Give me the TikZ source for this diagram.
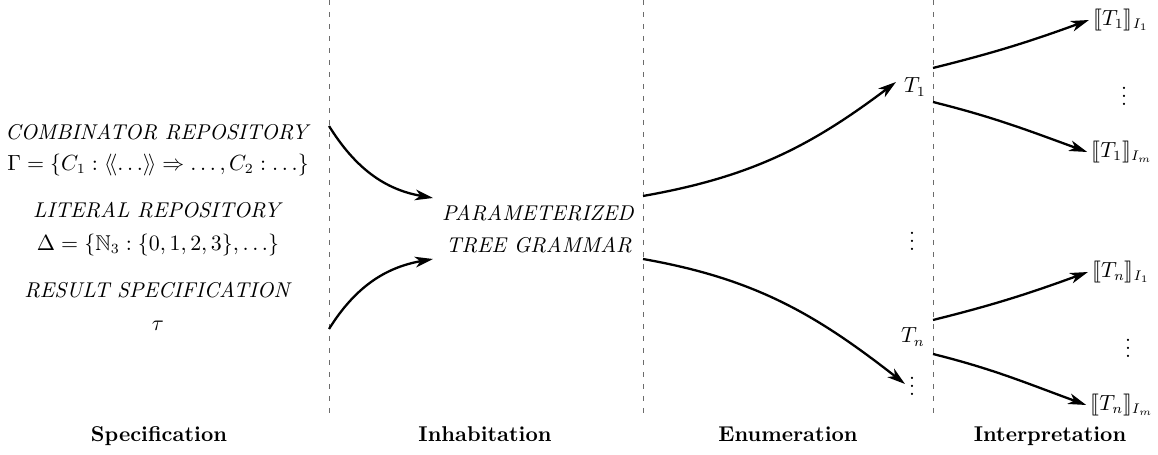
\documentclass[tikz,border=0pt]{standalone}
\usepackage{amssymb}
\usepackage{stmaryrd}
\usetikzlibrary{arrows.meta}
\begin{document}
\begin{tikzpicture}[x=0.5pt,y=0.5pt,
  every node/.style={font=\fontsize{10.7pt}{13pt}\selectfont},
  sep/.style={gray!85!black,line width=0.45pt,dash pattern=on 2.6pt off 3.4pt},
  flow/.style={line width=1.15pt,-{Stealth[length=9pt,width=5.4pt,inset=2.6pt]}},
  lbl/.style={inner sep=0pt,anchor=center},
  phase/.style={inner sep=0pt,anchor=base,font=\fontsize{10.7pt}{13pt}\selectfont\bfseries}]
\useasboundingbox (0,0) rectangle (1158,455);

% phase separators
\foreach \n/\x in {s1/329,s2/643,s3/933}{
  \coordinate (\n top) at (\x,455);
  \coordinate (\n bot) at (\x,37);
  \draw[sep] (\n top) -- (\n bot);
}

% phase titles
\node[phase] (pspec) at (159,13) {Specification};
\node[phase] (pinh)  at (485,13) {Inhabitation};
\node[phase] (penum) at (788,13) {Enumeration};
\node[phase] (pint)  at (1050,13) {Interpretation};

% specification
\node[lbl] (comb)  at (158,323) {\textit{COMBINATOR REPOSITORY}};
\node[lbl] (gamma) at (158,290) {$\Gamma = \{C_1 : \langle\!\langle \ldots\rangle\!\rangle \Rightarrow \ldots, C_2 : \ldots\}$};
\node[lbl] (lit)   at (158,245) {\textit{LITERAL REPOSITORY}};
\node[lbl] (delta) at (158,210) {$\Delta = \{\mathbb{N}_3 : \{0,1,2,3\},\ldots\}$};
\node[lbl] (res)   at (158,165) {\textit{RESULT SPECIFICATION}};
\node[lbl] (tau)   at (158,129) {$\tau$};

% inhabitation
\node[lbl] (param) at (538,242) {\textit{PARAMETERIZED}};
\node[lbl] (tree)  at (539,210) {\textit{TREE GRAMMAR}};

% enumeration
\node[lbl] (t1)    at (915,368) {$T_1$};
\node[lbl] (dotsA) at (912,220) {$\vdots$};
\node[lbl] (tn)    at (913,118) {$T_n$};
\node[lbl] (dotsB) at (912,75)  {$\vdots$};

% interpretation
\node[lbl] (t1a)   at (1121,435) {$\llbracket T_1\rrbracket_{I_1}$};
\node[lbl] (dotsC) at (1124,365) {$\vdots$};
\node[lbl] (t1m)   at (1122,303) {$\llbracket T_1\rrbracket_{I_m}$};
\node[lbl] (tna)   at (1121,183) {$\llbracket T_n\rrbracket_{I_1}$};
\node[lbl] (dotsD) at (1128,113) {$\vdots$};
\node[lbl] (tnm)   at (1122,50)  {$\llbracket T_n\rrbracket_{I_m}$};

% connector ends
\coordinate (specA) at (329,329);
\coordinate (specB) at (329,126);
\coordinate (gramIn1) at (433,257);
\coordinate (gramIn2) at (433,196);
\coordinate (gramOut1) at (643,259);
\coordinate (gramOut2) at (643,196);
\coordinate (t1end) at (896,373);
\coordinate (tnend) at (905,71);
\coordinate (t1o1) at (933,387);
\coordinate (t1o2) at (933,353);
\coordinate (tno1) at (933,135);
\coordinate (tno2) at (933,101);

\draw[flow] (specA) to[out=-58,in=170] (gramIn1);
\draw[flow] (specB) to[out=58,in=190] (gramIn2);
\draw[flow] (gramOut1) to[out=10,in=217] (t1end);
\draw[flow] (gramOut2) to[out=-10,in=142] (tnend);
\draw[flow] (t1o1) to[out=14,in=200] ([xshift=-2pt]t1a.west);
\draw[flow] (t1o2) to[out=-14,in=160] ([xshift=-2pt]t1m.west);
\draw[flow] (tno1) to[out=14,in=200] ([xshift=-2pt]tna.west);
\draw[flow] (tno2) to[out=-14,in=160] ([xshift=-2pt]tnm.west);
\end{tikzpicture}
\end{document}
